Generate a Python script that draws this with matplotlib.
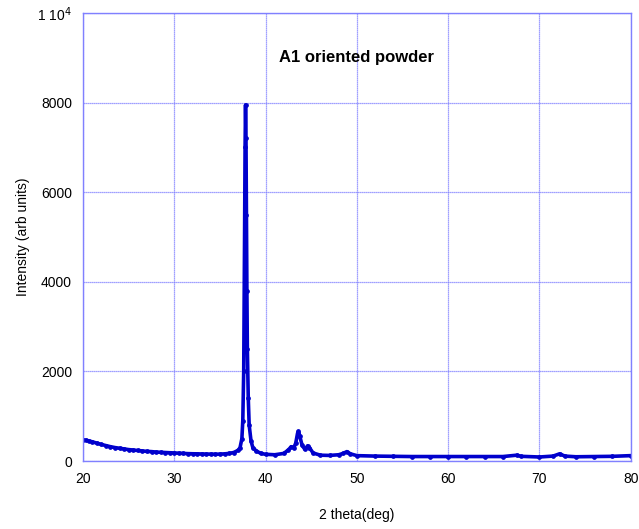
import numpy as np
import matplotlib.pyplot as plt

plt.rcParams['font.family'] = ['Liberation Sans', 'DejaVu Sans']

# 2 theta (deg) and intensity (arb units)
two_theta = [20.0, 20.3, 20.6, 21.0, 21.5, 22.0, 22.5, 23.0, 23.5, 24.0, 24.5,
             25.0, 25.5, 26.0, 26.5, 27.0, 27.5, 28.0, 28.5, 29.0, 29.5, 30.0,
             30.5, 31.0, 31.5, 32.0, 32.5, 33.0, 33.5, 34.0, 34.5, 35.0, 35.5,
             36.0, 36.5, 37.0, 37.2, 37.4, 37.5, 37.6, 37.7, 37.75, 37.8, 37.85,
             37.9, 37.95, 38.0, 38.1, 38.2, 38.4, 38.6, 39.0, 39.5, 40.0, 41.0,
             42.0, 42.5, 42.8, 43.1, 43.3, 43.5, 43.6, 43.75, 44.0, 44.3, 44.6,
             44.8, 45.2, 46.0, 47.0, 48.0, 48.5, 48.9, 49.3, 50.0, 52.0, 54.0,
             56.0, 58.0, 60.0, 62.0, 64.0, 66.0, 67.5, 68.0, 70.0, 71.5, 72.2,
             72.8, 74.0, 76.0, 78.0, 80.0]
intensity = [470, 465, 450, 430, 400, 370, 345, 320, 300, 285, 270,
             255, 245, 235, 225, 215, 210, 200, 195, 190, 185, 180,
             175, 170, 165, 162, 160, 158, 155, 155, 152, 155, 160,
             170, 190, 240, 300, 500, 900, 2000, 5200, 7000, 7950, 7200,
             5500, 3800, 2500, 1400, 800, 450, 300, 220, 170, 150, 140,
             170, 250, 320, 300, 400, 620, 660, 550, 350, 260, 340,
             300, 180, 130, 125, 140, 170, 210, 160, 120, 110, 105,
             100, 100, 100, 100, 100, 100, 130, 105, 90, 110, 160,
             110, 95, 100, 105, 120]

x_ticks = [20, 30, 40, 50, 60, 70, 80]
y_ticks = [0, 2000, 4000, 6000, 8000, 10000]
y_labels = ['0', '2000', '4000', '6000', '8000', r'1 10$^4$']

fig = plt.figure(figsize=(6.39, 5.29), dpi=100)
ax = fig.add_axes([0.130, 0.1285, 0.857, 0.8468])

grid_col = '#8080ff'
ax.plot(two_theta, intensity, color='#0000cc', lw=2.6, marker='o', ms=2.4)

ax.set_xlim(20, 80)
ax.set_ylim(0, 10000)
ax.set_xticks(x_ticks)
ax.set_yticks(y_ticks)
ax.set_yticklabels(y_labels)
ax.tick_params(length=0, labelsize=10, pad=8)
ax.grid(True, color=grid_col, lw=0.9, ls=(0, (1, 0.6)))
for s in ax.spines.values():
    s.set_color(grid_col)
    s.set_linewidth(1.0)

ax.set_xlabel('2 theta(deg)', fontsize=10, labelpad=16)
ax.set_ylabel('Intensity (arb units)', fontsize=10, labelpad=5)
ax.text(0.5, 0.90, 'A1 oriented powder', transform=ax.transAxes,
        ha='center', va='center', fontsize=12, fontweight='bold')

fig.savefig('out.png', dpi=100)
